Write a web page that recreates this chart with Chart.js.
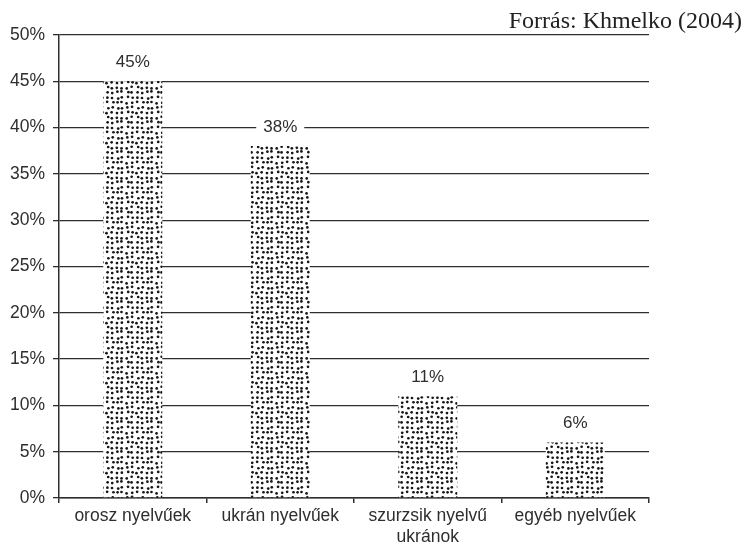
<!DOCTYPE html>
<html>
<head>
<meta charset="utf-8">
<script src="https://cdn.jsdelivr.net/npm/chart.js@4/dist/chart.umd.min.js"></script>
<style>
  html, body { margin: 0; padding: 0; background: #fff; }
  #wrap { width: 745px; height: 545px; position: relative; }
</style>
</head>
<body>
<div id="wrap"><canvas id="chart"></canvas></div>
<script>
// data
const categories = [
    "orosz nyelvűek",
    "ukrán nyelvűek",
    ["szurzsik nyelvű", "ukránok"],
    "egyéb nyelvűek"
];
const shares = [45, 38, 11, 6];
const yTicks = [0, 5, 10, 15, 20, 25, 30, 35, 40, 45, 50];
const sourceNote = "Forrás: Khmelko (2004)";

const ink = "#2e2e2e";
const textFont = "'Liberation Sans', Arial, sans-serif";

// stippled fill like the scanned original (fixed jitter, not data)
function makeStipple(){
    const size = 30;
    const c = document.createElement("canvas");
    c.width = size;
    c.height = size;
    const g = c.getContext("2d");
    g.fillStyle = "#fff";
    g.fillRect(0, 0, size, size);
    g.fillStyle = "#151515";
    const step = 5;
    for(let i = 0; i < size / step; i++){
        for(let j = 0; j < size / step; j++){
            const h = Math.sin(i * 12.9898 + j * 78.233) * 43758.5453;
            const k = Math.sin(i * 39.346 + j * 11.135) * 24634.6345;
            const jx = (h - Math.floor(h)) * 2.2 - 1.1;
            const jy = (k - Math.floor(k)) * 2.2 - 1.1;
            g.beginPath();
            g.arc(i * step + 2.5 + jx, j * step + 2.5 + jy, 1.35, 0, Math.PI * 2);
            g.fill();
        }
    }
    return g.createPattern(c, "repeat");
}

// value labels sitting above each bar, white box cuts the grid line
const valueLabels = {
    id: "valueLabels",
    afterDatasetsDraw(chart){
        const ctx = chart.ctx;
        const meta = chart.getDatasetMeta(0);
        ctx.save();
        ctx.font = "17px " + textFont;
        ctx.textAlign = "center";
        ctx.textBaseline = "middle";
        meta.data.forEach((bar, i) => {
            const txt = shares[i] + "%";
            const y = bar.y - 19;
            const w = ctx.measureText(txt).width + 14;
            ctx.fillStyle = "#fff";
            ctx.fillRect(bar.x - w / 2, y - 9, w, 18);
            ctx.fillStyle = ink;
            ctx.fillText(txt, bar.x, y);
        });
        ctx.restore();
    }
};

const sourceText = {
    id: "sourceText",
    afterDraw(chart){
        const ctx = chart.ctx;
        ctx.save();
        ctx.font = "24px 'Liberation Serif', 'Times New Roman', serif";
        ctx.fillStyle = "#222";
        ctx.textAlign = "right";
        ctx.textBaseline = "alphabetic";
        ctx.fillText(sourceNote, 742, 28);
        ctx.restore();
    }
};

const chart = new Chart(document.getElementById("chart"), {
    type: "bar",
    data: {
        labels: categories,
        datasets: [{
            data: shares,
            backgroundColor: makeStipple(),
            borderWidth: 0,
            barPercentage: 0.4,
            categoryPercentage: 1
        }]
    },
    options: {
        responsive: true,
        maintainAspectRatio: false,
        animation: false,
        events: [],
        layout: { padding: { top: 35, right: 96, left: 0, bottom: 0 } },
        plugins: {
            legend: { display: false },
            tooltip: { enabled: false }
        },
        scales: {
            x: {
                afterFit(scale){ scale.height = 47; },
                grid: {
                    offset: true,
                    drawOnChartArea: true,
                    color: (c) => c.index === categories.length ? ink : "rgba(0,0,0,0)",
                    tickColor: ink,
                    tickLength: 5,
                    lineWidth: 1.5
                },
                border: { display: true, color: ink, width: 1.5 },
                ticks: {
                    color: ink,
                    font: { family: textFont, size: 17.5, lineHeight: 1.2 },
                    padding: 3,
                    maxRotation: 0,
                    autoSkip: false
                }
            },
            y: {
                min: 0,
                max: 50,
                afterFit(scale){ scale.width = 59; },
                afterBuildTicks(scale){ scale.ticks = yTicks.map(v => ({ value: v })); },
                grid: {
                    color: ink,
                    tickColor: ink,
                    tickLength: 6,
                    lineWidth: 1.3
                },
                border: { display: true, color: ink, width: 1.5 },
                ticks: {
                    color: ink,
                    font: { family: textFont, size: 17.5 },
                    padding: 8,
                    callback: (v) => v + "%"
                }
            }
        }
    },
    plugins: [valueLabels, sourceText]
});
</script>
</body>
</html>
